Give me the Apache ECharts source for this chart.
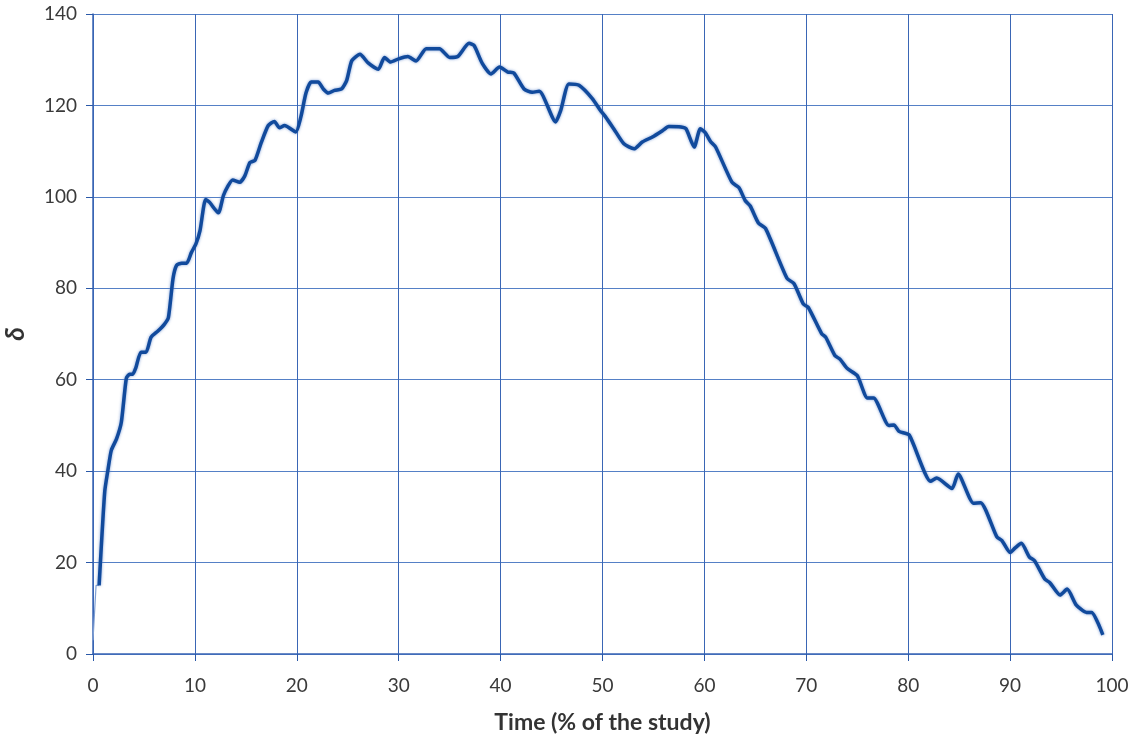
<!DOCTYPE html>
<html>
<head>
<meta charset="utf-8">
<script src="https://cdn.jsdelivr.net/npm/echarts@6/dist/echarts.min.js"></script>
<style>
html,body{margin:0;padding:0;background:#fff;}
#chart{width:1133px;height:737px;}
</style>
</head>
<body>
<div id="chart"></div>
<script>
// Time (% of the study)
var timePct = [0.6,1.15,1.47,1.8,2.3,2.78,3.27,3.6,3.9,4.2,4.7,5.2,5.7,6.4,7.0,7.4,7.85,8.2,8.7,9.2,9.65,10.1,10.5,11.05,11.4,12.3,12.8,13.2,13.7,14.4,14.9,15.4,15.9,16.5,17.2,17.8,18.3,18.8,19.9,20.4,20.9,21.4,22.1,22.6,23.1,23.7,24.4,24.9,25.4,26.2,27.0,28.0,28.6,29.2,30.0,30.9,31.7,32.7,34.0,35.0,35.8,36.9,37.4,38.2,39.05,39.9,40.7,41.3,42.3,43.1,43.8,45.4,45.9,46.7,47.7,49.0,49.8,50.3,51.1,52.1,53.1,53.9,54.9,55.9,56.5,57.7,58.2,59.0,59.6,60.1,60.6,61.1,62.7,63.4,64.0,64.5,65.3,66.0,68.1,68.8,69.7,70.2,71.5,71.9,72.8,73.3,74.0,75.0,76.0,76.6,78.1,78.6,79.1,80.1,82.2,82.8,84.3,84.9,86.4,87.1,88.7,89.2,90.0,90.5,91.1,91.9,92.4,93.4,93.9,94.9,95.6,96.5,97.5,98.0,99.1];
// delta (smoothed)
var delta = [15,35.5,40.3,44.6,47,50.7,60.3,61.2,61.2,62.6,66,66,69.3,70.7,72.1,73.6,82.1,85,85.5,85.5,87.8,89.7,92.6,99.4,98.9,96.5,100.3,102.2,103.7,103.2,104.6,107.5,108,111.8,115.6,116.5,115.1,115.6,114.2,117.5,122.7,125.1,125.1,123.6,122.7,123.3,123.6,125.5,129.8,131.2,129.3,127.9,130.5,129.5,130.2,130.7,129.7,132.4,132.4,130.5,130.7,133.6,133.1,129.2,126.9,128.4,127.3,127.1,123.6,122.9,123.1,116.4,118.9,124.7,124.4,121.5,118.9,117.5,114.9,111.6,110.5,112,113.1,114.5,115.4,115.3,114.9,110.9,114.9,114.0,112.1,110.9,103.2,102,99.2,98,94.3,93.1,82.2,81,76.6,75.8,70.1,69.3,65.3,64.5,62.5,60.9,56,56,50,50.1,48.7,47.9,37.8,38.5,36.2,39.4,33,33.1,25.6,24.8,22.2,23.2,24.2,21.2,20.4,16.4,15.6,12.9,14.2,10.7,9.1,9.1,4.2];
// raw start segment (thin line)
var rawTime = [0,0.3,0.6];
var rawDelta = [3,15,15];
var xTicks = [0,10,20,30,40,50,60,70,80,90,100];
var yTicks = [0,20,40,60,80,100,120,140];

var smoothData = timePct.map(function(t,i){return [t,delta[i]];});
var rawData = rawTime.map(function(t,i){return [t,rawDelta[i]];});

var chart = echarts.init(document.getElementById('chart'));
var font = 'Lato, "Open Sans", sans-serif';
chart.setOption({
  animation:false,
  grid:{left:93,right:21,top:14,bottom:83,containLabel:false,outerBoundsMode:'none'},
  xAxis:{
    type:'value',min:0,max:100,interval:10,
    name:'Time (% of the study)',nameLocation:'middle',nameGap:57,
    nameTextStyle:{fontFamily:font,fontSize:23,fontWeight:'bold',color:'#333'},
    axisLine:{show:true,lineStyle:{color:'#3a66b5',width:1.5}},
    axisTick:{show:true,length:7,lineStyle:{color:'#2a58a8'}},
    axisLabel:{fontFamily:font,fontSize:19,color:'#3a3a3a',margin:22},
    splitLine:{show:true,lineStyle:{color:'#3a66b5',width:1}}
  },
  yAxis:{
    type:'value',min:0,max:140,interval:20,
    name:'δ',nameLocation:'middle',nameGap:64,nameRotate:90,
    nameTextStyle:{fontFamily:font,fontSize:26,fontWeight:'bold',fontStyle:'italic',color:'#333'},
    axisLine:{show:true,lineStyle:{color:'#3a66b5',width:1.5}},
    axisTick:{show:true,length:7,lineStyle:{color:'#2a58a8'}},
    axisLabel:{fontFamily:font,fontSize:19,color:'#3a3a3a',margin:16},
    splitLine:{show:true,lineStyle:{color:'#5580c6',width:1}}
  },
  series:[
    {type:'line',data:rawData,showSymbol:false,
     lineStyle:{color:'#7f9fd3',width:1.2}},
    {type:'line',data:smoothData,showSymbol:false,smooth:0.2,
     lineStyle:{color:'#114a9c',width:3.5,shadowColor:'rgba(90,130,200,0.8)',shadowBlur:3}}
  ]
});
</script>
</body>
</html>
